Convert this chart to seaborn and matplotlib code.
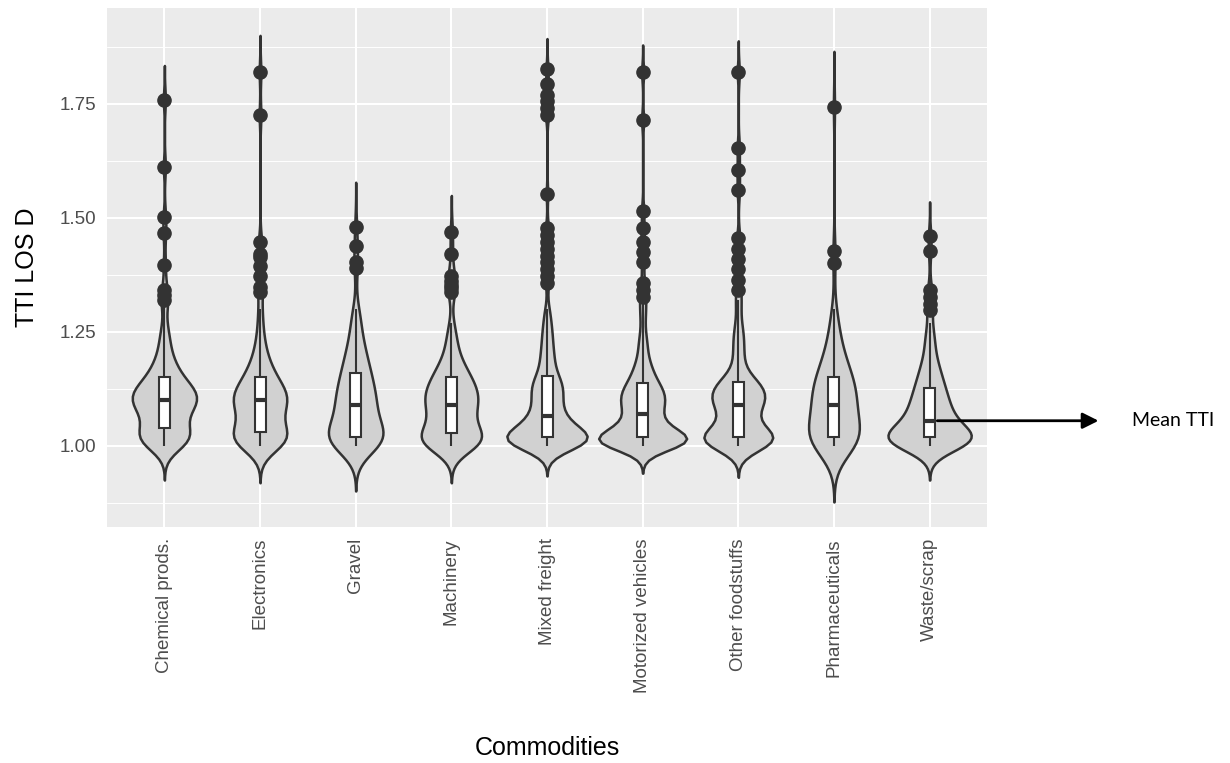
import numpy as np
import pandas as pd
import matplotlib
matplotlib.use("Agg")
import matplotlib.pyplot as plt
from matplotlib.ticker import FixedLocator, FormatStrFormatter
import seaborn as sns

# Commodities on the x axis
commodities = ['Chemical prods.', 'Electronics', 'Gravel', 'Machinery', 'Mixed freight',
               'Motorized vehicles', 'Other foodstuffs', 'Pharmaceuticals', 'Waste/scrap']

tti_bins = [1.00, 1.01, 1.02, 1.03, 1.04, 1.05, 1.06, 1.07, 1.08, 1.09, 1.10,
            1.11, 1.12, 1.13, 1.14, 1.15, 1.16, 1.17, 1.18, 1.19, 1.20,
            1.21, 1.22, 1.23, 1.24, 1.25, 1.26, 1.27, 1.28, 1.29, 1.30]

chem_counts = [6, 6, 6, 5, 4, 3, 3, 4, 5, 6, 7, 7, 6, 5, 4, 3, 3, 2, 2, 2, 1, 1, 1, 1, 1, 1, 0, 1, 0, 0, 0]
elec_counts = [8, 8, 7, 5, 4, 4, 4, 3, 5, 5, 6, 7, 5, 4, 4, 3, 3, 2, 2, 2, 1, 1, 1, 1, 1, 0, 1, 0, 1, 0, 1]
grav_counts = [10, 9, 8, 5, 4, 4, 4, 3, 4, 4, 4, 4, 4, 3, 3, 3, 3, 3, 2, 2, 2, 2, 2, 1, 1, 1, 1, 1, 1, 1, 1]
mach_counts = [10, 9, 7, 4, 4, 4, 3, 4, 4, 5, 5, 5, 5, 4, 4, 3, 4, 2, 2, 2, 1, 1, 1, 1, 1, 1, 0, 1, 0, 0, 0]
mixd_counts = [16, 17, 15, 11, 8, 6, 5, 5, 4, 4, 4, 4, 5, 5, 4, 4, 2, 2, 2, 2, 2, 2, 1, 2, 1, 2, 1, 1, 1, 1, 1]
motr_counts = [14, 15, 12, 8, 5, 4, 4, 4, 4, 5, 5, 5, 5, 4, 3, 3, 2, 2, 2, 1, 1, 1, 1, 1, 1, 0, 1, 0, 0, 0, 0]
food_counts = [10, 10, 9, 6, 4, 3, 3, 3, 4, 5, 5, 6, 5, 5, 4, 3, 1, 1, 1, 1, 1, 1, 1, 1, 1, 1, 1, 0, 1, 0, 0]
phar_counts = [10, 9, 8, 5, 4, 4, 3, 3, 4, 4, 5, 5, 4, 4, 4, 4, 3, 3, 2, 2, 2, 2, 1, 1, 1, 1, 1, 1, 1, 0, 1]
wast_counts = [12, 13, 11, 8, 6, 5, 5, 4, 4, 4, 4, 3, 3, 3, 3, 2, 2, 2, 2, 1, 1, 1, 1, 1, 1, 1, 0, 1, 0, 0, 0]

# outlier points (dark dots)
chem_out = [1.759, 1.612, 1.501, 1.466, 1.396, 1.342, 1.331, 1.319, 1.312]
elec_out = [1.819, 1.725, 1.447, 1.421, 1.413, 1.395, 1.372, 1.349, 1.338]
grav_out = [1.479, 1.438, 1.402, 1.391]
mach_out = [1.468, 1.421, 1.372, 1.361, 1.353, 1.346, 1.338]
mixd_out = [1.827, 1.793, 1.770, 1.755, 1.740, 1.725, 1.552, 1.477, 1.462, 1.447,
            1.432, 1.417, 1.402, 1.387, 1.372, 1.357]
motr_out = [1.819, 1.714, 1.515, 1.477, 1.447, 1.425, 1.402, 1.357, 1.342, 1.327,
            1.312, 1.297, 1.282]
food_out = [1.819, 1.654, 1.605, 1.560, 1.455, 1.432, 1.410, 1.387, 1.364, 1.342, 1.319, 1.308]
phar_out = [1.742, 1.428, 1.401]
wast_out = [1.460, 1.427, 1.342, 1.327, 1.312, 1.297]

# violin styling per commodity (kde bandwidth, max width)
bandwidths = [0.025, 0.027, 0.033, 0.027, 0.022, 0.020, 0.023, 0.041, 0.025]
violin_widths = [0.67, 0.56, 0.57, 0.63, 0.84, 0.92, 0.72, 0.53, 0.87]

all_counts = [chem_counts, elec_counts, grav_counts, mach_counts, mixd_counts,
              motr_counts, food_counts, phar_counts, wast_counts]
all_out = [chem_out, elec_out, grav_out, mach_out, mixd_out,
           motr_out, food_out, phar_out, wast_out]

rows = []
for name, counts, outs in zip(commodities, all_counts, all_out):
    vals = list(np.repeat(tti_bins, counts)) + outs
    rows.append(pd.DataFrame({'commodity': name, 'tti': vals}))
df = pd.concat(rows, ignore_index=True)

sns.set_theme(style="darkgrid", rc={"axes.facecolor": "#EBEBEB", "grid.color": "white"})
plt.rcParams['font.family'] = ['Liberation Sans', 'DejaVu Sans']

fig = plt.figure(figsize=(12.3, 7.63), dpi=100)
ax = fig.add_axes([107 / 1230, 1 - 527 / 763, 880 / 1230, 519 / 763])

for name, bw, w in zip(commodities, bandwidths, violin_widths):
    sub = df[df['commodity'] == name]
    sns.violinplot(data=sub, x='commodity', y='tti', order=commodities, ax=ax,
                   inner=None, cut=3, density_norm='width', width=w,
                   bw_method=lambda k, b=bw: b / np.std(k.dataset, ddof=1),
                   color='#d1d1d1', saturation=1, linecolor='#333333', linewidth=1.8)

sns.boxplot(data=df, x='commodity', y='tti', order=commodities, ax=ax,
            width=0.115, color='white', saturation=1, linecolor='#333333', linewidth=1.5,
            showcaps=False,
            medianprops=dict(linewidth=3, color='#333333'),
            flierprops=dict(marker='o', markersize=9.5, markerfacecolor='#333333',
                            markeredgecolor='#333333'))

ax.set_xlim(-0.6, 8.6)
ax.set_ylim(0.822, 1.96)
ax.yaxis.set_major_locator(FixedLocator([1.00, 1.25, 1.50, 1.75]))
ax.yaxis.set_minor_locator(FixedLocator([0.875, 1.125, 1.375, 1.625, 1.875]))
ax.yaxis.set_major_formatter(FormatStrFormatter('%.2f'))
ax.grid(which='major', color='white', linewidth=1.5)
ax.grid(which='minor', axis='y', color='white', linewidth=0.7)
ax.set_axisbelow(True)
for s in ax.spines.values():
    s.set_visible(False)

ax.tick_params(which='major', length=5, width=1.8, color='#333333', labelcolor='#4d4d4d',
               labelsize=13.5, pad=3)
ax.tick_params(which='minor', length=0)
plt.setp(ax.get_xticklabels(), rotation=90)

ax.set_xlabel('Commodities', fontsize=18, color='black')
ax.set_ylabel('TTI LOS D', fontsize=18, color='black')
ax.xaxis.set_label_coords(0.5, (527 - 748) / 519)
ax.xaxis.label.set_va('center')
ax.yaxis.set_label_coords((27 - 107) / 880, 0.5)
ax.yaxis.label.set_va('center')

# arrow pointing out from the waste/scrap median
ax.annotate('', xy=(9.766, 1.055), xytext=(8.08, 1.055),
            arrowprops=dict(arrowstyle='-|>', color='black', lw=2, mutation_scale=24,
                            shrinkA=0, shrinkB=0),
            annotation_clip=False)
ax.text(10.12, 1.055, 'Mean TTI', ha='left', va='center', fontsize=14,
        family=['Lato', 'DejaVu Sans'], color='black', clip_on=False)

fig.savefig('out.png', dpi=100)
